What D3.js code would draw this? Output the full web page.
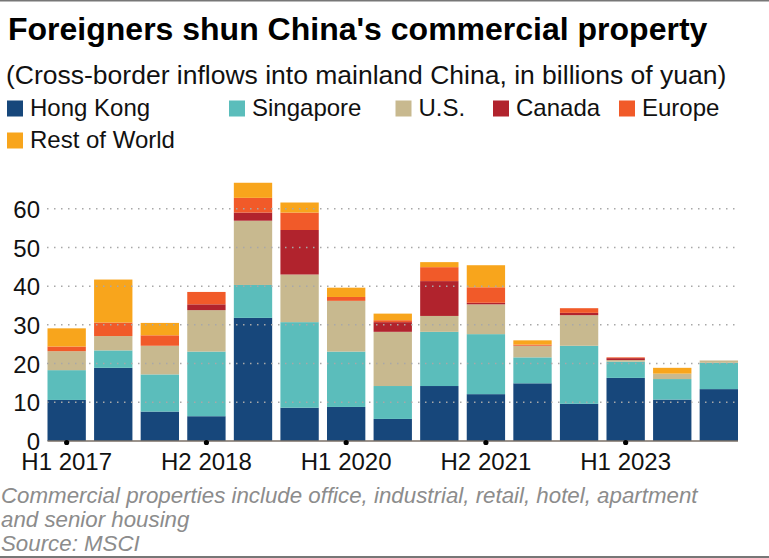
<!DOCTYPE html>
<html>
<head>
<meta charset="utf-8">
<script src="https://cdn.jsdelivr.net/npm/d3@7"></script>
<style>
  html, body { margin: 0; padding: 0; background: #fff; }
  svg { display: block; font-family: "Liberation Sans", Arial, sans-serif; }
</style>
</head>
<body>
<svg id="chart" width="769" height="558"></svg>
<script>
// ---- Data ----
const periods = ["H1 2017","H2 2017","H1 2018","H2 2018","H1 2019","H2 2019","H1 2020","H2 2020",
                 "H1 2021","H2 2021","H1 2022","H2 2022","H1 2023","H2 2023","H1 2024"];
const seriesNames = ["Hong Kong","Singapore","U.S.","Canada","Europe","Rest of World"];
const hongKong    = [10.6,18.9, 7.6, 6.4,31.8, 8.6, 8.8, 5.7,14.2,12.1,14.9, 9.6,16.3,10.7,13.4];
const singapore   = [ 7.7, 4.5, 9.6,16.7, 8.5,22.1,14.3, 8.5,14.0,15.5, 6.7,15.0, 4.2, 5.3, 6.8];
const us          = [ 4.9, 3.7, 7.4,10.7,16.6,12.3,13.1,14.0, 4.1, 7.7, 3.0, 7.9, 0.4, 1.4, 0.6];
const canada      = [ 0.0, 0.0, 0.0, 1.5, 2.1,11.5, 0.0, 2.5, 9.0, 0.4, 0.0, 0.6, 0.5, 0.0, 0.0];
const europe      = [ 1.2, 3.5, 2.7, 3.2, 3.8, 4.5, 1.0, 0.5, 3.6, 4.0, 0.3, 1.2, 0.2, 0.0, 0.0];
const restOfWorld = [ 4.7,11.1, 3.2, 0.0, 3.9, 2.6, 2.4, 1.7, 1.3, 5.7, 1.1, 0.0, 0.0, 1.5, 0.0];
const yTicks = [0,10,20,30,40,50,60];
const xTickLabels = ["H1 2017","H2 2018","H1 2020","H2 2021","H1 2023"];

const colors = ["#17477b","#5bbdbb","#c8b98f","#b1232d","#f15a29","#f8a51c"];

// ---- Build table ----
const seriesValues = [hongKong, singapore, us, canada, europe, restOfWorld];
const table = periods.map((p, i) => {
  const row = { period: p };
  seriesNames.forEach((s, k) => row[s] = seriesValues[k][i]);
  return row;
});
const stacked = d3.stack().keys(seriesNames)(table);

const svg = d3.select("#chart");

// Frame lines
svg.append("rect").attr("x", 0).attr("y", 0).attr("width", 769).attr("height", 1.5).attr("fill", "#777");
svg.append("rect").attr("x", 0).attr("y", 556).attr("width", 769).attr("height", 2).attr("fill", "#777");

// Title & subtitle
svg.append("text").attr("x", 8).attr("y", 40)
  .attr("font-size", 32).attr("font-weight", "bold").attr("fill", "#000")
  .text("Foreigners shun China's commercial property");
svg.append("text").attr("x", 6).attr("y", 84)
  .attr("font-size", 26.5).attr("fill", "#111")
  .text("(Cross-border inflows into mainland China, in billions of yuan)");

// Legend
const legendPos = [[7,116],[229,116],[395.5,116],[493,116],[619,116],[7,148]];
const lg = svg.append("g");
seriesNames.forEach((s, k) => {
  const [lx, ly] = legendPos[k];
  lg.append("rect").attr("x", lx).attr("y", ly - 15.5).attr("width", 16).attr("height", 16)
    .attr("fill", colors[k]);
  lg.append("text").attr("x", lx + 23).attr("y", ly)
    .attr("font-size", 24).attr("fill", "#111").text(s);
});

// Scales
const x = d3.scaleBand().domain(periods).range([47.5, 738]).paddingInner(0.177).paddingOuter(0);
const y = d3.scaleLinear().domain([0, 60]).range([441, 208.7]);

// Bars
svg.append("g").selectAll("g").data(stacked).join("g")
  .attr("fill", (d, k) => colors[k])
  .selectAll("rect").data(d => d).join("rect")
  .attr("x", d => x(d.data.period))
  .attr("width", x.bandwidth())
  .attr("y", d => y(d[1]))
  .attr("height", d => Math.max(0, y(d[0]) - y(d[1])));

// Gridlines (dotted, on top of bars)
const yAxis = d3.axisLeft(y).tickValues(yTicks).tickSize(0).tickPadding(0).tickFormat(d3.format("d"));
const gy = svg.append("g").attr("transform", "translate(40,0)").call(yAxis);
gy.select(".domain").remove();
gy.selectAll("text").attr("font-size", 24).attr("fill", "#111")
  .attr("font-family", "Liberation Sans, Arial, sans-serif").attr("dy", "0.36em");

svg.append("g").selectAll("line").data(yTicks.filter(t => t > 0)).join("line")
  .attr("x1", 47).attr("x2", 740)
  .attr("y1", d => y(d)).attr("y2", d => y(d))
  .attr("stroke", "#a8a8a8").attr("stroke-width", 1.5).attr("stroke-dasharray", "1.5,5.5");

// X axis baseline
const xAxis = d3.axisBottom(x).tickValues(xTickLabels).tickSize(0).tickPadding(0);
const gx = svg.append("g").attr("transform", `translate(0,${y(0)})`).call(xAxis);
gx.select(".domain").attr("stroke", "#7a6f66").attr("stroke-width", 1.5)
  .attr("d", `M47.5,0H738`);
gx.selectAll("text").attr("font-size", 24).attr("fill", "#111")
  .attr("font-family", "Liberation Sans, Arial, sans-serif").attr("dy", null).attr("y", 29);
gx.selectAll(".tick").append("circle").attr("r", 2.6).attr("cy", 1.5).attr("fill", "#000");

// Footnote
const notes = ["Commercial properties include office, industrial, retail, hotel, apartment",
               "and senior housing", "Source: MSCI"];
svg.append("g").selectAll("text").data(notes).join("text")
  .attr("x", 1).attr("y", (d, i) => 503 + i * 24)
  .attr("font-size", 22.3).attr("font-style", "italic").attr("fill", "#8c8c8c")
  .text(d => d);
</script>
</body>
</html>
